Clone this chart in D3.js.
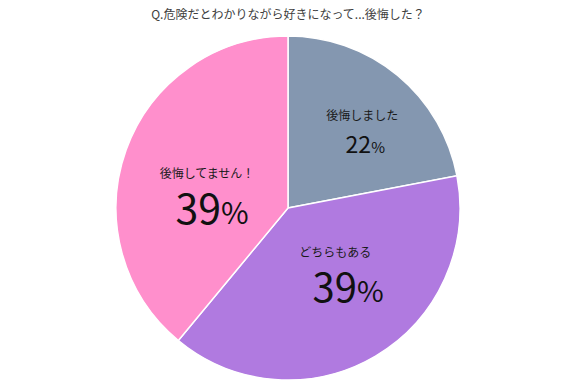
<!DOCTYPE html>
<html lang="ja">
<head>
<meta charset="UTF-8">
<title>後悔した？</title>
<script src="https://d3js.org/d3.v7.min.js"></script>
<style>
    body { margin: 0; background: #fff; font-family: "Noto Sans CJK JP", "Noto Sans", sans-serif; }
    svg { display: block; }
    .title { font-size: 12px; fill: #404040; }
    .label { font-size: 12px; fill: #1a1a1a; }
    .num { fill: #111; }
</style>
</head>
<body>
<svg></svg>
<script>
    // data
    const categories = ["後悔しました", "どちらもある", "後悔してません！"];
    const values = [22, 39, 39];
    const colors = ["#8497b0", "#b07ae0", "#ff8fcc"];

    const width = 577, height = 390;
    const cx = 288, cy = 208, radius = 172;

    // per-slice label tweaks: [labelDx, labelDy, numDx, numDy, numSize, pctSize]
    const tweak = [
        [14, -15, 17, 18, 23, 15],
        [-1, -32, 12, 13, 40, 29],
        [8, 2, 13, 48, 41, 30]
    ];

    const svg = d3.select("svg").attr("width", width).attr("height", height);

    svg.append("text")
        .attr("class", "title")
        .attr("x", cx)
        .attr("y", 19)
        .attr("text-anchor", "middle")
        .text("Q.危険だとわかりながら好きになって...後悔した？");

    const pie = d3.pie().sort(null).value(d => d)(values);
    const arc = d3.arc().innerRadius(0).outerRadius(radius);
    const labelArc = d3.arc().innerRadius(radius * 0.55).outerRadius(radius * 0.55);

    const g = svg.append("g").attr("transform", `translate(${cx},${cy})`);

    g.selectAll("path")
        .data(pie)
        .join("path")
        .attr("d", arc)
        .attr("fill", (d, i) => colors[i])
        .attr("stroke", "#fff")
        .attr("stroke-width", 1.5);

    pie.forEach((d, i) => {
        const [x, y] = labelArc.centroid(d);
        const t = tweak[i];
        g.append("text")
            .attr("class", "label")
            .attr("x", x + t[0])
            .attr("y", y + t[1])
            .attr("text-anchor", "middle")
            .text(categories[i]);
        const n = g.append("text")
            .attr("class", "num")
            .attr("x", x + t[2])
            .attr("y", y + t[3])
            .attr("text-anchor", "middle");
        n.append("tspan").style("font-size", t[4] + "px").text(values[i]);
        n.append("tspan").style("font-size", t[5] + "px").text("%");
    });
</script>
</body>
</html>
